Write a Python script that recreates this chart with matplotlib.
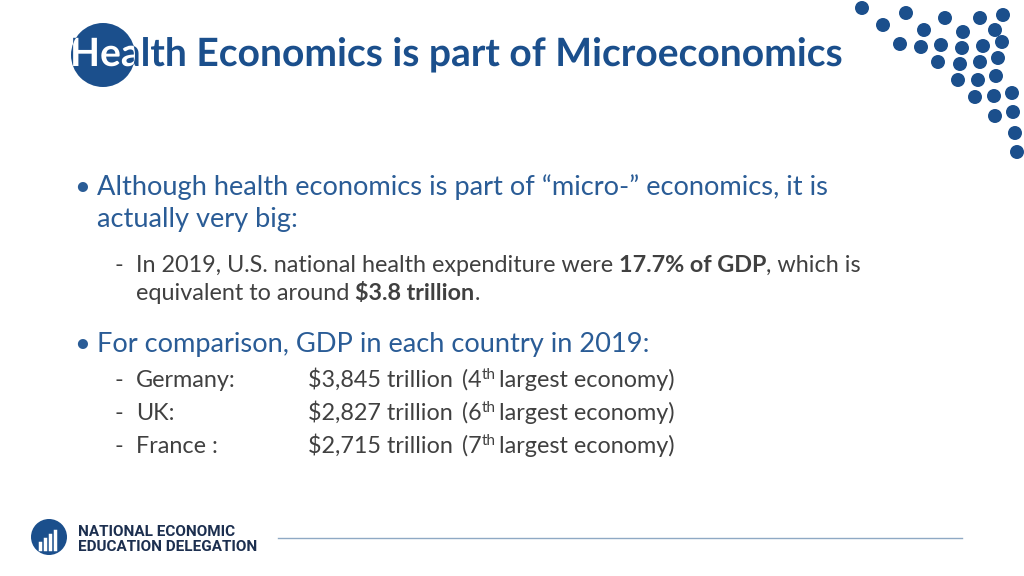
import matplotlib
matplotlib.use("Agg")
import matplotlib.pyplot as plt
from matplotlib.patches import Circle, PathPatch
from matplotlib.textpath import TextPath
from matplotlib.font_manager import FontProperties
from matplotlib.transforms import Affine2D

countries = ["Germany:", "UK:", "France :"]
gdp_labels = ["$3,845 trillion", "$2,827 trillion", "$2,715 trillion"]
ranks = ["4", "6", "7"]
health_share = "17.7% of GDP"
health_amount = "$3.8 trillion"

FONT = "Lato"
NAVY = "#1B4F8C"
BLUE = "#2A5C96"
GRAY = "#404040"
S1 = 19.6
S2 = 16.8

fig = plt.figure(figsize=(10.24, 5.76), dpi=100)
ax = fig.add_axes([0, 0, 1, 1])
ax.set_xlim(0, 1024); ax.set_ylim(576, 0); ax.axis("off")
fig.canvas.draw()
r = fig.canvas.get_renderer()

def pieces(x, y, parts, size, color):
    for txt, w in parts:
        t = ax.text(x, y, txt, fontsize=size, fontweight=w, color=color,
                    family=FONT, va="baseline", ha="left")
        x += t.get_window_extent(renderer=r).width
    return x

dots = [(862,8),(883,25),(906,13),(924,30),(945,18),(900,44),(921,47),(941,45),
        (963,32),(980,18),(1003,15),(995,30),(962,48),(983,46),(1002,42),(938,62),
        (960,64),(980,62),(998,58),(958,80),(978,80),(996,76),(975,97),(994,96),
        (1012,93),(995,116),(1013,112),(1015,133),(1017,152)]
for (x, y) in dots:
    ax.add_patch(Circle((x, y), 7, color=NAVY, lw=0))

circ = Circle((103, 55), 32, color=NAVY, lw=0)
ax.add_patch(circ)
title = "Health Economics is part of Microeconomics"
tp = TextPath((0, 0), title, size=39, prop=FontProperties(family=FONT, weight="bold"))
tr = Affine2D().scale(1, -1).translate(70, 66) + ax.transData
ax.add_patch(PathPatch(tp, transform=tr, color=NAVY, lw=0, zorder=3))
wp = PathPatch(tp, transform=tr, color="white", lw=0, zorder=4)
ax.add_patch(wp)
wp.set_clip_path(circ)

ax.text(74, 195, "•", fontsize=S1, color=BLUE, family=FONT, va="baseline")
ax.text(97, 195, "Although health economics is part of \u201cmicro-\u201d economics, it is",
        fontsize=S1, color=BLUE, family=FONT, va="baseline")
ax.text(97, 227, "actually very big:", fontsize=S1, color=BLUE, family=FONT, va="baseline")
ax.text(115, 272, "-", fontsize=S2, color=GRAY, family=FONT, va="baseline")
pieces(136, 272, [("In 2019, U.S. national health expenditure were ", "normal"),
                  (health_share, "bold"), (", which is", "normal")], S2, GRAY)
pieces(136, 300, [("equivalent to around ", "normal"), (health_amount, "bold"), (".", "normal")], S2, GRAY)

ax.text(74, 352, "•", fontsize=S1, color=BLUE, family=FONT, va="baseline")
ax.text(97, 352, "For comparison, GDP in each country in 2019:", fontsize=S1,
        color=BLUE, family=FONT, va="baseline")
for i, (c, g, k) in enumerate(zip(countries, gdp_labels, ranks)):
    y = 387 + i * 33
    ax.text(115, y, "-", fontsize=S2, color=GRAY, family=FONT, va="baseline")
    ax.text(136, y, c, fontsize=S2, color=GRAY, family=FONT, va="baseline")
    ax.text(308, y, g, fontsize=S2, color=GRAY, family=FONT, va="baseline")
    x = pieces(462, y, [("(" + k, "normal")], S2, GRAY)
    t = ax.text(x, y - 8, "th", fontsize=11, color=GRAY, family=FONT, va="baseline")
    x += t.get_window_extent(renderer=r).width + 3
    ax.text(x, y, "largest economy)", fontsize=S2, color=GRAY, family=FONT, va="baseline")

ax.add_patch(Circle((49, 537), 18, color=NAVY, lw=0))
for j, h in enumerate([6, 10, 14, 18]):
    ax.plot([40 + j * 5, 40 + j * 5], [549, 549 - h], color="white", lw=2.5)
ax.text(78, 536, "NATIONAL ECONOMIC", fontsize=11, fontweight="bold", color="#1C2F4F",
        family="Roboto", va="baseline")
ax.text(78, 551, "EDUCATION DELEGATION", fontsize=11, fontweight="bold", color="#1C2F4F",
        family="Roboto", va="baseline")
ax.plot([278, 962], [538, 538], color="#8FA9C4", lw=1)

fig.savefig("out.png", dpi=100)
